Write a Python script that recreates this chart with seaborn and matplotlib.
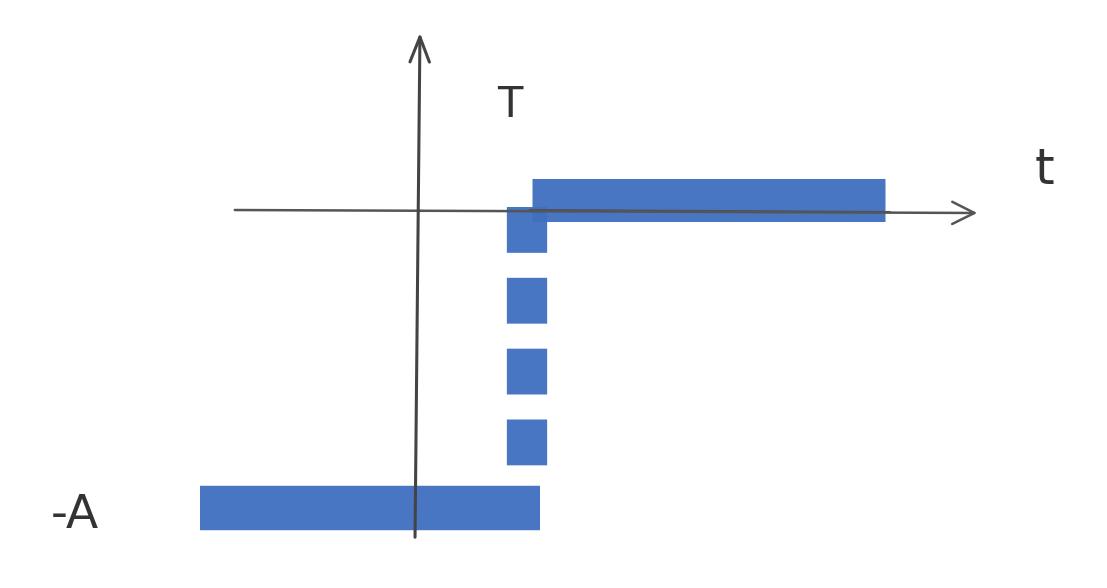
import numpy as np
import pandas as pd
import matplotlib
matplotlib.use("Agg")
import matplotlib.pyplot as plt
import seaborn as sns

# step signal: -A before the jump, 0 after it (units: 1 = 100 px of the sketch)
low_t = [-2.2, 1.2]
low_v = [-2.98, -2.98]
high_t = [1.12, 4.65]
high_v = [0.1, 0.1]
jump_t = [1.07, 1.07]
jump_v = [0.03, -2.6]

sns.set_style("white")
plt.rcParams['lines.scale_dashes'] = False

fig = plt.figure(figsize=(11.07, 5.88), dpi=100)
ax = fig.add_axes([0, 0, 1, 1])
ax.set_xlim(-4.2, 6.87)
ax.set_ylim(-3.78, 2.1)
ax.axis('off')

blue = '#3f6fbf'

# hand drawn axes
ax.annotate('', xy=(5.6, -0.03), xytext=(-1.88, 0.0),
            arrowprops=dict(arrowstyle='->,head_length=1.6,head_width=0.8',
                            color='#555555', lw=1.8))
ax.annotate('', xy=(0.0, 1.8), xytext=(-0.05, -3.3),
            arrowprops=dict(arrowstyle='->,head_length=1.8,head_width=0.7',
                            color='#444444', lw=2.2))

sns.lineplot(x=low_t, y=low_v, ax=ax, estimator=None, sort=False,
             color=blue, lw=32, solid_capstyle='butt', alpha=0.95)
sns.lineplot(x=high_t, y=high_v, ax=ax, estimator=None, sort=False,
             color=blue, lw=31, solid_capstyle='butt', alpha=0.95)
sns.lineplot(x=jump_t, y=jump_v, ax=ax, estimator=None, sort=False,
             color=blue, lw=29, linestyle=(0, (33, 18)),
             dash_capstyle='butt', alpha=0.95)

# pen stroke of the t axis running through the top segment
ax.plot([1.1, 4.7], [0.0, -0.02], color='#4a5060', lw=1.5)

ax.text(0.9, 1.05, 'T', fontsize=30, color='#333333', ha='center', va='center')
ax.text(6.25, 0.4, 't', fontsize=36, color='#333333', ha='center', va='center')
ax.text(-3.45, -3.05, '-A', fontsize=34, color='#333333', ha='center', va='center')

fig.savefig('out.png', dpi=100)
